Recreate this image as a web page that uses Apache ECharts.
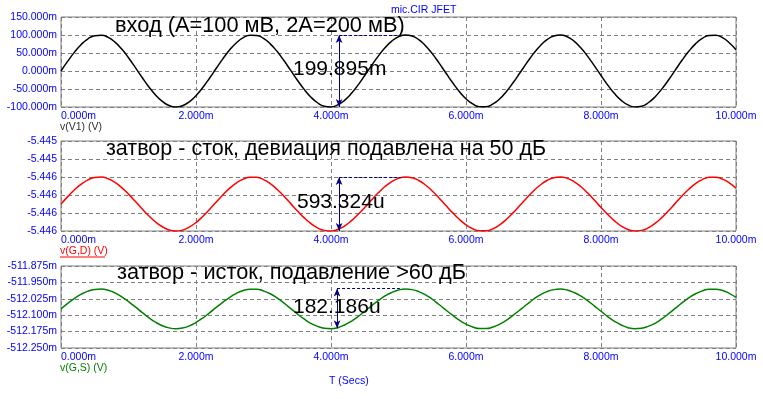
<!DOCTYPE html>
<html>
<head>
<meta charset="utf-8">
<script src="https://cdn.jsdelivr.net/npm/echarts@6/dist/echarts.min.js"></script>
<style>
  html, body { margin: 0; padding: 0; background: #fff; }
  #chart { width: 763px; height: 399px; }
</style>
</head>
<body>
<div id="chart"></div>
<script>
// time samples, ms
const timeMs = [
  0, 0.1, 0.2, 0.3, 0.4, 0.5, 0.6, 0.7, 0.8, 0.9, 1, 1.1, 1.2, 1.3, 1.4, 1.5, 1.6, 1.7, 1.8, 1.9,
  2, 2.1, 2.2, 2.3, 2.4, 2.5, 2.6, 2.7, 2.8, 2.9, 3, 3.1, 3.2, 3.3, 3.4, 3.5, 3.6, 3.7, 3.8, 3.9,
  4, 4.1, 4.2, 4.3, 4.4, 4.5, 4.6, 4.7, 4.8, 4.9, 5, 5.1, 5.2, 5.3, 5.4, 5.5, 5.6, 5.7, 5.8, 5.9,
  6, 6.1, 6.2, 6.3, 6.4, 6.5, 6.6, 6.7, 6.8, 6.9, 7, 7.1, 7.2, 7.3, 7.4, 7.5, 7.6, 7.7, 7.8, 7.9,
  8, 8.1, 8.2, 8.3, 8.4, 8.5, 8.6, 8.7, 8.8, 8.9, 9, 9.1, 9.2, 9.3, 9.4, 9.5, 9.6, 9.7, 9.8, 9.9, 10
];

// v(V1), mV
const vIn = [
  0, 27.3, 52.5, 73.8, 89.4, 98.2, 99.6, 93.4, 80.1, 60.8, 36.8, 10.0, -17.5, -43.7, -66.6, -84.4, -95.9, -100.0, -96.5, -85.8,
  -68.5, -46.0, -20.0, 7.5, 34.5, 58.8, 78.6, 92.5, 99.4, 98.7, 90.5, 75.4, 54.6, 29.7, 2.5, -24.9, -50.4, -72.0, -88.2, -97.7,
  -99.8, -94.3, -81.6, -62.8, -39.1, -12.5, 15.0, 41.4, 64.7, 83.0, 95.1, 99.9, 97.2, 87.0, 70.3, 48.2, 22.4, -5.0, -32.1, -56.7,
  -77.1, -91.5, -99.0, -99.0, -91.5, -77.1, -56.7, -32.1, -5.0, 22.4, 48.2, 70.3, 87.0, 97.2, 99.9, 95.1, 83.0, 64.7, 41.4, 15.0,
  -12.5, -39.1, -62.8, -81.6, -94.3, -99.8, -97.7, -88.2, -72.0, -50.4, -24.9, 2.5, 29.7, 54.6, 75.4, 90.5, 98.7, 99.4, 92.5, 78.6, 58.8
];

// v(G,D), V
const vGD = [
  -5.445900, -5.445818, -5.445742, -5.445679, -5.445632, -5.445605, -5.445601, -5.445620, -5.445660, -5.445718,
  -5.445790, -5.445870, -5.445953, -5.446031, -5.446100, -5.446153, -5.446188, -5.446200, -5.446190, -5.446157,
  -5.446106, -5.446038, -5.445960, -5.445878, -5.445797, -5.445724, -5.445664, -5.445623, -5.445602, -5.445604,
  -5.445629, -5.445674, -5.445736, -5.445811, -5.445893, -5.445975, -5.446051, -5.446116, -5.446165, -5.446193,
  -5.446199, -5.446183, -5.446145, -5.446088, -5.446017, -5.445938, -5.445855, -5.445776, -5.445706, -5.445651,
  -5.445615, -5.445600, -5.445608, -5.445639, -5.445689, -5.445755, -5.445833, -5.445915, -5.445996, -5.446070,
  -5.446131, -5.446175, -5.446197, -5.446197, -5.446175, -5.446131, -5.446070, -5.445996, -5.445915, -5.445833,
  -5.445755, -5.445689, -5.445639, -5.445608, -5.445600, -5.445615, -5.445651, -5.445706, -5.445776, -5.445855,
  -5.445938, -5.446017, -5.446088, -5.446145, -5.446183, -5.446199, -5.446193, -5.446165, -5.446116, -5.446051,
  -5.445975, -5.445893, -5.445811, -5.445736, -5.445674, -5.445629, -5.445604, -5.445602, -5.445623, -5.445664, -5.445724
];

// v(G,S), mV
const vGS = [
  -512.071, -512.046, -512.023, -512.004, -511.990, -511.982, -511.980, -511.986, -511.998, -512.016,
  -512.038, -512.062, -512.087, -512.111, -512.132, -512.148, -512.158, -512.162, -512.159, -512.149,
  -512.133, -512.113, -512.089, -512.064, -512.040, -512.018, -512.000, -511.987, -511.981, -511.981,
  -511.989, -512.002, -512.021, -512.044, -512.069, -512.094, -512.117, -512.137, -512.151, -512.160,
  -512.162, -512.157, -512.145, -512.128, -512.107, -512.082, -512.057, -512.033, -512.012, -511.996,
  -511.985, -511.980, -511.983, -511.992, -512.007, -512.027, -512.051, -512.076, -512.100, -512.123,
  -512.141, -512.154, -512.161, -512.161, -512.154, -512.141, -512.123, -512.100, -512.076, -512.051,
  -512.027, -512.007, -511.992, -511.983, -511.980, -511.985, -511.996, -512.012, -512.033, -512.057,
  -512.082, -512.107, -512.128, -512.145, -512.157, -512.162, -512.160, -512.151, -512.137, -512.117,
  -512.094, -512.069, -512.044, -512.021, -512.002, -511.989, -511.981, -511.981, -511.987, -512.000, -512.018
];

// cursor readouts: [x ms, y low, y high, dashed end x]
const cursorIn = [4.12, -100, 100, 4.98];
const cursorGD = [4.12, -5.4462, -5.4456, 5.04];
const cursorGS = [4.09, -512.160, -511.978, 5.02];

const xTicks = { min: 0, max: 10, interval: 2 };
const yInTicks = { min: -100, max: 150, interval: 50 };
const yGDTicks = { min: -5.4462, max: -5.4452, interval: 0.0002 };
const yGSTicks = { min: -512.25, max: -511.875, interval: 0.075 };

const chart = echarts.init(document.getElementById('chart'));

const labelFont = 'Liberation Sans, Arial, sans-serif';
const blue = '#0000ff';
const gridLine = { show: true, lineStyle: { color: '#808080', type: [4, 3], width: 1 } };

const grids = [
  { left: 61, right: 27, top: 17, height: 90 },
  { left: 61, right: 27, top: 141, height: 90 },
  { left: 61, right: 27, top: 266, height: 82 }
].map(g => Object.assign(g, { show: true, borderColor: '#808080', borderWidth: 1, backgroundColor: '#fff' }));

const xAxes = [0, 1, 2].map(i => ({
  type: 'value',
  gridIndex: i,
  min: xTicks.min,
  max: xTicks.max,
  interval: xTicks.interval,
  axisLine: { show: false },
  axisTick: { show: false },
  splitLine: gridLine,
  axisLabel: {
    color: blue,
    fontFamily: labelFont,
    fontSize: 10.5,
    margin: 4,
    alignMinLabel: 'left',
    formatter: v => v.toFixed(3) + 'm'
  }
}));

function yAxis(i, t, fmt) {
  return {
    type: 'value',
    gridIndex: i,
    min: t.min,
    max: t.max,
    interval: t.interval,
    axisLine: { show: false },
    axisTick: { show: false },
    splitLine: gridLine,
    axisLabel: { color: blue, fontFamily: labelFont, fontSize: 10.5, margin: 4, formatter: fmt }
  };
}

const yAxes = [
  yAxis(0, yInTicks, v => v.toFixed(3) + 'm'),
  yAxis(1, yGDTicks, v => v.toFixed(3)),
  yAxis(2, yGSTicks, v => v.toFixed(3) + 'm')
];

function cursor(c) {
  const navy = '#000080';
  return {
    silent: true,
    label: { show: false },
    animation: false,
    data: [
      [
        { coord: [c[0], c[1]], symbol: 'arrow', symbolSize: [5, 8], lineStyle: { color: navy, width: 1, type: 'solid' } },
        { coord: [c[0], c[2]], symbol: 'arrow', symbolSize: [5, 8] }
      ],
      [
        { coord: [c[0], c[2]], symbol: 'none', lineStyle: { color: navy, width: 1, type: [3, 2] } },
        { coord: [c[3], c[2]], symbol: 'none' }
      ]
    ]
  };
}

function line(i, values, color, c) {
  return {
    type: 'line',
    xAxisIndex: i,
    yAxisIndex: i,
    data: timeMs.map((t, k) => [t, values[k]]),
    smooth: true,
    showSymbol: false,
    lineStyle: { color: color, width: 1.5 },
    markLine: cursor(c)
  };
}

const bigText = (text, x, y, size) => ({
  type: 'text', left: x, top: y, z: 100,
  style: { text: text, fill: '#000', font: (size || 21) + 'px "Liberation Sans", Arial, sans-serif' }
});
const smallText = (text, x, y, color) => ({
  type: 'text', left: x, top: y, z: 100,
  style: { text: text, fill: color, font: '10.5px "Liberation Sans", Arial, sans-serif' }
});

chart.setOption({
  animation: false,
  grid: grids,
  xAxis: xAxes,
  yAxis: yAxes,
  series: [
    line(0, vIn, '#000000', cursorIn),
    line(1, vGD, '#ff0000', cursorGD),
    line(2, vGS, '#008000', cursorGS)
  ],
  graphic: [
    smallText('mic.CIR JFET', 391, 5, blue),
    bigText('вход (A=100 мВ, 2A=200 мВ)', 115, 15, 21.8),
    bigText('199.895m', 293, 59),
    smallText('v(V1) (V)', 60, 122, '#303030'),
    bigText('затвор - сток, девиация подавлена на 50 дБ', 106, 138, 21.5),
    bigText('593.324u', 297, 192),
    smallText('v(G,D) (V)', 60, 246, '#ff0000'),
    { type: 'line', shape: { x1: 60, y1: 257, x2: 105, y2: 257 }, style: { stroke: '#ff0000', lineWidth: 1 } },
    bigText('затвор - исток, подавление >60 дБ', 117, 262, 21.75),
    bigText('182.186u', 293, 297),
    smallText('v(G,S) (V)', 60, 363, '#008000'),
    smallText('T (Secs)', 329, 376, blue)
  ]
});
</script>
</body>
</html>
